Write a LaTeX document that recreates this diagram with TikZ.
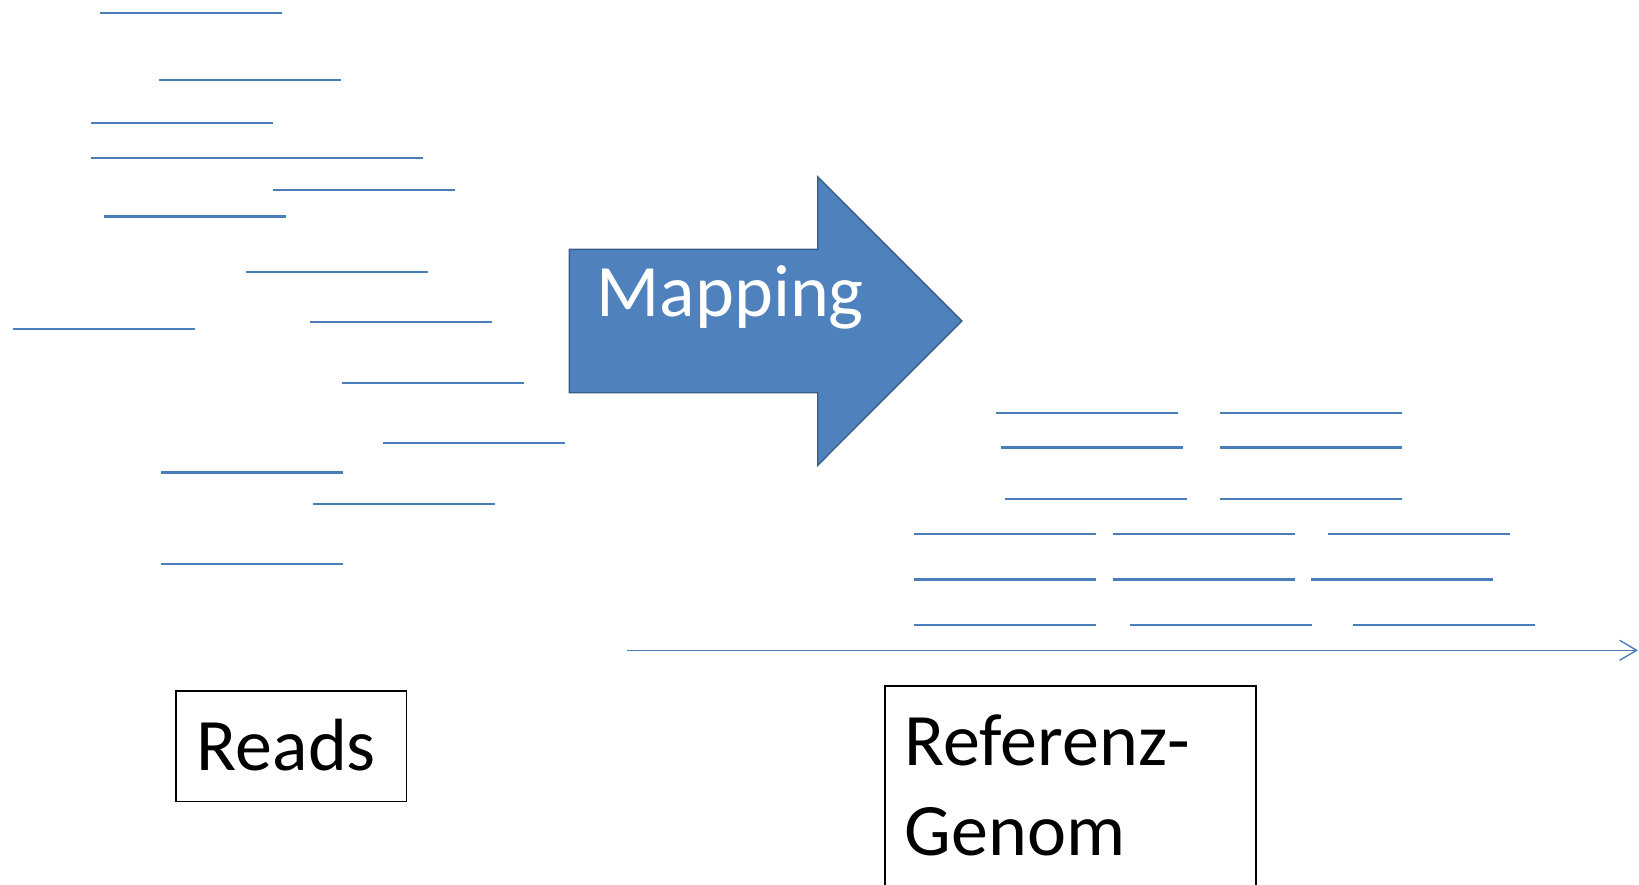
\documentclass[tikz,border=0pt]{standalone}
\usepackage{fontspec}
\setmainfont{Carlito}
\usetikzlibrary{arrows.meta}
\definecolor{readblue}{HTML}{4A7EBB}
\definecolor{arrowfill}{HTML}{4F81BD}
\definecolor{arrowedge}{HTML}{385D8A}
\begin{document}
\begin{tikzpicture}[x=1pt,y=-1pt,
  readline/.style={draw=readblue, line width=2pt},
  boldread/.style={draw=readblue, line width=2.8pt},
  axisline/.style={draw=readblue, line width=1.4pt},
  bigarrow/.style={fill=arrowfill, draw=arrowedge, line width=1.4pt, line join=miter},
  bigtext/.style={font=\fontsize{74}{90}\selectfont},
  labelbox/.style={draw=black, line width=1.6pt, bigtext, align=left,
    anchor=north west, inner ysep=30.7pt, text height=49.3pt}]
\useasboundingbox (0,0) rectangle (1639,884);

% short reads, unsorted
\foreach \xa/\xb/\yy in {100/282/12.5, 159/341/80, 91/273/123, 91/423/158,
    273/455/190, 246/428/272, 310/492/322, 13/195/329, 342/524/383,
    383/565/443, 313/495/504, 161/343/564}
  \draw[readline] (\xa,\yy) -- (\xb,\yy);
\foreach \xa/\xb/\yy in {104/286/216.7, 161/343/472.3}
  \draw[boldread] (\xa,\yy) -- (\xb,\yy);

% reads placed on the reference
\foreach \xa/\xb/\yy in {996/1178/413, 1220/1402/413,
    1005/1187/499.3, 1220/1402/499.3,
    914/1096/534, 1113/1295/534, 1328/1510/534,
    914/1096/624.7, 1130/1312/624.7, 1353/1535/624.7}
  \draw[readline] (\xa,\yy) -- (\xb,\yy);
\foreach \xa/\xb/\yy in {1001/1183/447.3, 1220/1402/447.3,
    914/1096/579.3, 1113/1295/579.3, 1311/1493/579.3}
  \draw[boldread] (\xa,\yy) -- (\xb,\yy);

% reference axis
\coordinate (axisstart) at (627,650.3);
\coordinate (axisend) at (1638,650.3);
\draw[axisline, -{Straight Barb[length=17pt, width=20pt, line width=1.4pt]}] (axisstart) -- (axisend);

% block arrow
\draw[bigarrow] (569.3,249.3) -- (817.7,249.3) -- (817.7,176.7) -- (961.9,321)
  -- (817.7,465.3) -- (817.7,392.7) -- (569.3,392.7) -- cycle;
\node[bigtext, text=white, anchor=base west, inner sep=0pt] (maplabel) at (596.5,316.7) {Mapping};

% labels
\node[labelbox, inner xsep=21pt, text width=188.7pt, text depth=0pt] (reads) at (175,690) {Reads};
\node[labelbox, inner xsep=20pt, text width=331pt] (refgenome) at (884,685) {Referenz-\\Genom\strut};
\end{tikzpicture}
\end{document}
